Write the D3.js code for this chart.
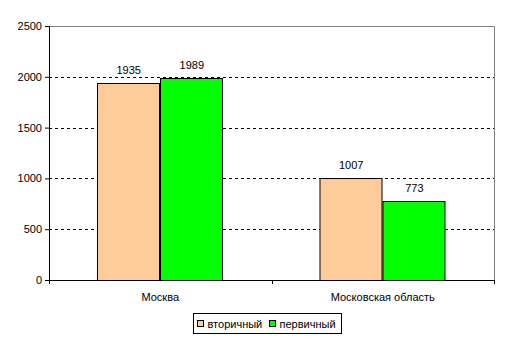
<!DOCTYPE html>
<html>
<head>
<meta charset="utf-8">
<script src="https://cdn.jsdelivr.net/npm/d3@7"></script>
<style>
  body { margin: 0; background: #fff; }
  text { font-family: "Liberation Sans", Arial, sans-serif; font-size: 11px; fill: #000; }
</style>
</head>
<body>
<div id="chart"></div>
<script>
// data
const categories = ["Москва", "Московская область"];
const seriesNames = ["вторичный", "первичный"];
const secondary = [1935, 1007];
const primary = [1989, 773];
const yTicks = [0, 500, 1000, 1500, 2000, 2500];

const colors = ["#ffcc99", "#00ff00"];

const width = 509, height = 343;
const margin = { top: 26, right: 15, bottom: 63, left: 49 };
const innerWidth = 494 - margin.left;
const innerHeight = 280 - margin.top;

const svg = d3.select("#chart").append("svg")
    .attr("width", width)
    .attr("height", height);

const g = svg.append("g")
    .attr("transform", `translate(${margin.left}, ${margin.top})`);

const x = d3.scaleBand()
    .domain(categories)
    .range([0, innerWidth]);

const xInner = d3.scaleBand()
    .domain(seriesNames)
    .range([0, x.bandwidth()])
    .paddingOuter(0.76)
    .paddingInner(0);

const y = d3.scaleLinear()
    .domain([0, 2500])
    .range([innerHeight, 0]);

// grid lines
g.selectAll("line.grid")
    .data(yTicks.filter(d => d > 0 && d < 2500))
    .join("line")
    .attr("class", "grid")
    .attr("x1", 0)
    .attr("x2", innerWidth)
    .attr("y1", d => Math.round(y(d)) + 0.5)
    .attr("y2", d => Math.round(y(d)) + 0.5)
    .attr("stroke", "#000")
    .attr("stroke-dasharray", "3,3");

// gray frame top and right
g.append("path")
    .attr("d", `M0,0.5H${innerWidth + 0.5}V${innerHeight}`)
    .attr("fill", "none")
    .attr("stroke", "#808080");

const rows = categories.map((c, i) => ({
    cat: c,
    values: [secondary[i], primary[i]]
}));

// bars
const groups = g.selectAll("g.cat")
    .data(rows)
    .join("g")
    .attr("class", "cat")
    .attr("transform", d => `translate(${x(d.cat)}, 0)`);

groups.selectAll("rect")
    .data(d => d.values.map((v, k) => ({ name: seriesNames[k], value: v, k })))
    .join("rect")
    .attr("x", d => Math.round(xInner(d.name)) + 0.5)
    .attr("y", d => Math.round(y(d.value)) + 0.5)
    .attr("width", Math.round(xInner.bandwidth()) - 1)
    .attr("height", d => Math.round(innerHeight - y(d.value)))
    .attr("fill", d => colors[d.k])
    .attr("stroke", "#000");

groups.selectAll("text.val")
    .data(d => d.values.map((v, k) => ({ name: seriesNames[k], value: v })))
    .join("text")
    .attr("class", "val")
    .attr("x", d => xInner(d.name) + xInner.bandwidth() / 2)
    .attr("y", d => y(d.value) - 9)
    .attr("text-anchor", "middle")
    .text(d => d.value);

// Y axis
const yAxis = g.append("g")
    .call(d3.axisLeft(y).tickValues(yTicks).tickSize(4).tickPadding(3).tickFormat(d3.format("d")));
yAxis.select(".domain").attr("stroke", "#000");
yAxis.selectAll("text").style("font-size", "11px").style("font-family", "Liberation Sans, Arial, sans-serif");

// X axis
const xAxis = g.append("g")
    .attr("transform", `translate(0, ${innerHeight})`)
    .call(d3.axisBottom(x).tickSize(0).tickPadding(13));
xAxis.select(".domain").attr("d", `M0,0.5H${innerWidth + 0.5}`).attr("stroke", "#000");
xAxis.selectAll("text").style("font-size", "11px").style("font-family", "Liberation Sans, Arial, sans-serif");

// category separators below axis
g.selectAll("line.sep")
    .data([0, x.bandwidth(), innerWidth])
    .join("line")
    .attr("class", "sep")
    .attr("x1", d => Math.round(d) + 0.5)
    .attr("x2", d => Math.round(d) + 0.5)
    .attr("y1", innerHeight)
    .attr("y2", innerHeight + 4)
    .attr("stroke", "#000");

// legend
const legend = svg.append("g")
    .attr("transform", "translate(193.5, 313.5)");

legend.append("rect")
    .attr("width", 148)
    .attr("height", 20)
    .attr("fill", "#fff")
    .attr("stroke", "#000");

const legendX = [4, 76];
const items = legend.selectAll("g.item")
    .data(seriesNames)
    .join("g")
    .attr("class", "item")
    .attr("transform", (d, i) => `translate(${legendX[i]}, 0)`);

items.append("rect")
    .attr("x", 0)
    .attr("y", 7)
    .attr("width", 6)
    .attr("height", 6)
    .attr("fill", (d, i) => colors[i])
    .attr("stroke", "#000");

items.append("text")
    .attr("x", 10)
    .attr("y", 14)
    .text(d => d);
</script>
</body>
</html>
